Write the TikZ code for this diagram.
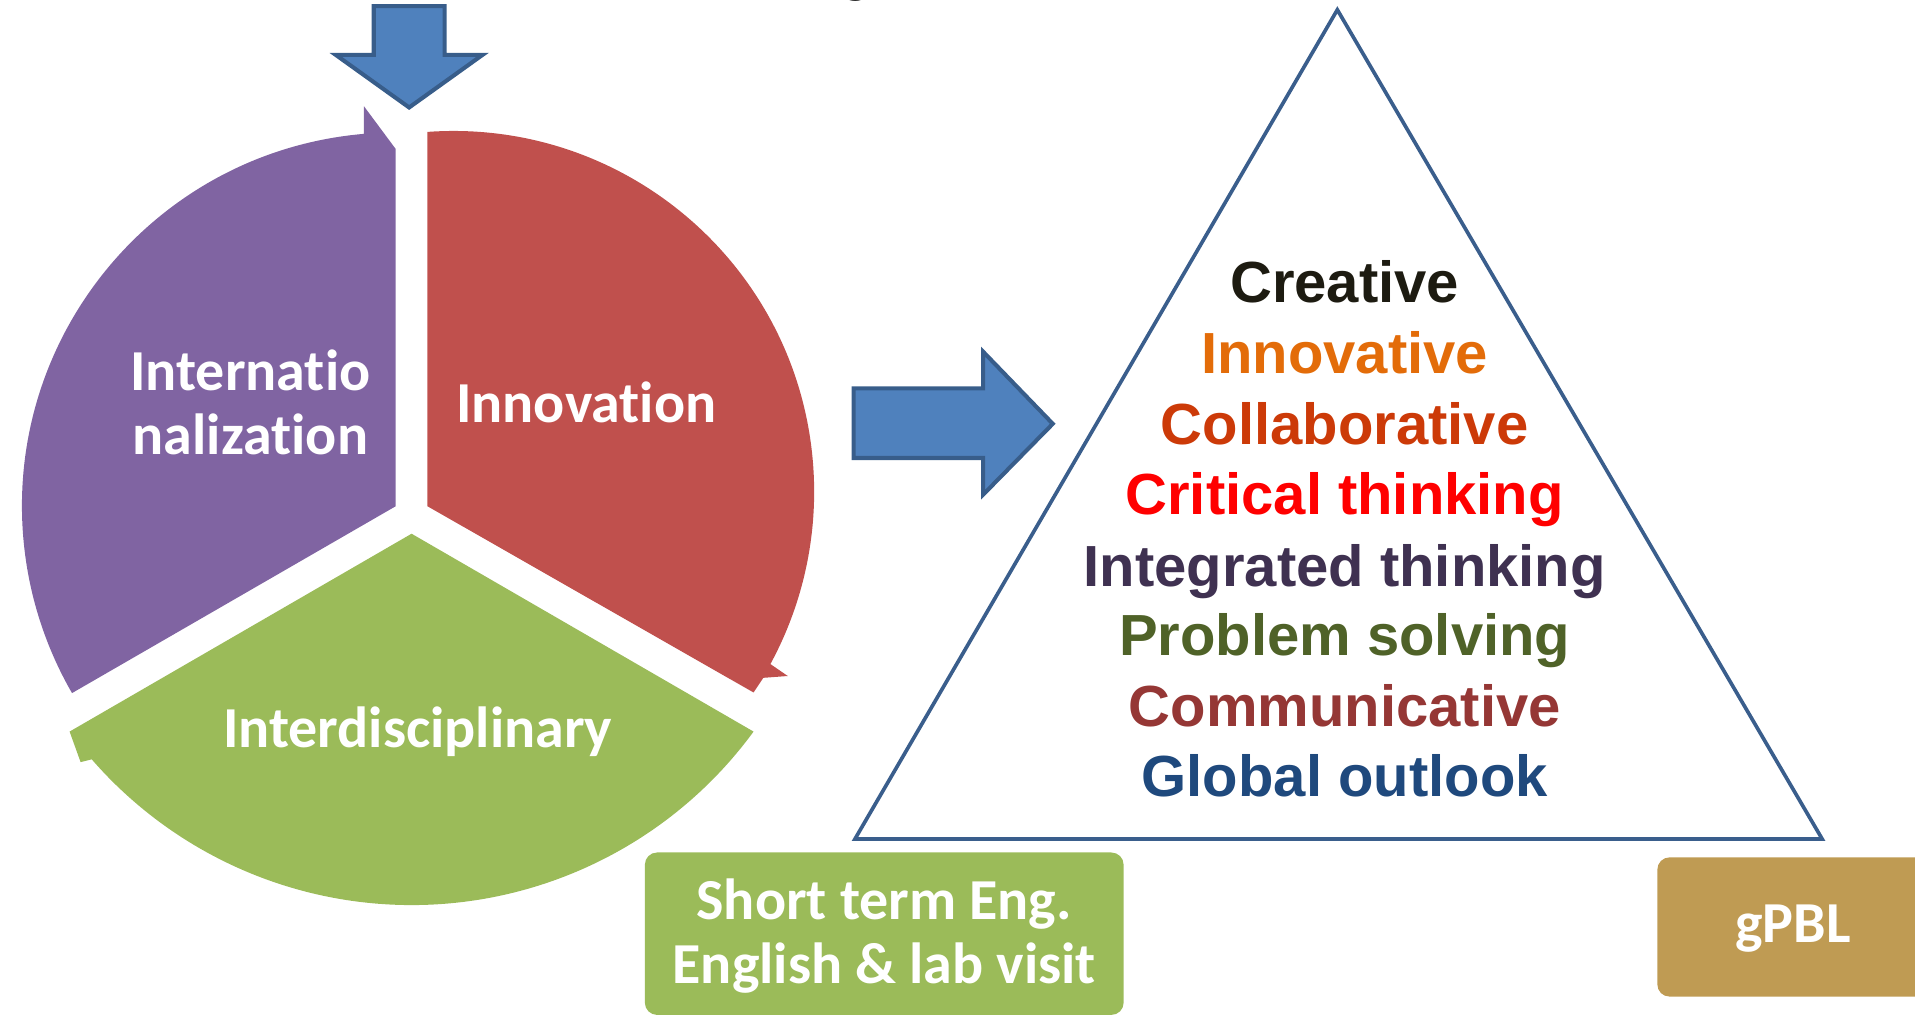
\documentclass[tikz,border=0pt]{standalone}
\usepackage{fontspec}
\newfontfamily\calfont{Carlito}[Ligatures={NoCommon,NoContextual}]
\newfontfamily\arialfont{Liberation Sans}
\definecolor{purp}{HTML}{8064A2}
\definecolor{redc}{HTML}{C0504D}
\definecolor{grn}{HTML}{9BBB59}
\definecolor{arrowfill}{HTML}{4F81BD}
\definecolor{arrowline}{HTML}{385D8A}
\definecolor{triline}{HTML}{3A5E8C}
\definecolor{gold}{HTML}{BF9B53}
\definecolor{cA}{HTML}{1D1B11}
\definecolor{cB}{HTML}{E36C09}
\definecolor{cC}{HTML}{CC3A08}
\definecolor{cD}{HTML}{FF0000}
\definecolor{cE}{HTML}{3F3151}
\definecolor{cF}{HTML}{4F6228}
\definecolor{cG}{HTML}{953735}
\definecolor{cH}{HTML}{1F497D}
\begin{document}
\begin{tikzpicture}[x=0.6pt,y=-0.6pt,
  pielabel/.style={text=white, font=\calfont\bfseries\fontsize{28.5}{34}\selectfont, anchor=base, inner sep=0pt},
  skill/.style={font=\arialfont\bfseries\fontsize{28.5}{34}\selectfont, anchor=base, inner sep=0pt},
  blockarrow/.style={fill=arrowfill, draw=arrowline, line width=2pt, line join=miter},
  tri/.style={draw=triline, line width=1.8pt},
  boxfill/.style={rounded corners=6pt}]
\useasboundingbox (0,0) rectangle (1568,832);

% cropped title fragment at the top edge
\begin{scope}
\clip (0,0) rectangle (1568,832);
\node[anchor=base, inner sep=0pt, font=\calfont\bfseries\fontsize{28.5}{34}\selectfont] (titlefrag) at (701,-7) {g};
\end{scope}

% segmented cycle (three exploded sectors with small arrow tips)
\fill[purp] (324,414.5) -- (324,122) -- (298,87) -- (298,109.6)
   arc[start angle=-94.87, end angle=-210, radius=306] -- cycle;
\fill[redc] (350,414.5) -- (350,108)
   arc[start angle=-94.1, end angle=28.5, radius=295.5]
   -- (645,553.5) -- (625,555) -- (617,567) -- cycle;
\fill[grn] (337,437) -- (617,599)
   arc[start angle=36.2, end angle=139, radius=347]
   -- (66,624) -- (57,599) -- cycle;

\node[pielabel] (intl1) at (205,320) {Internatio};
\node[pielabel] (intl2) at (205,372) {nalization};
\node[pielabel] (innov) at (480,346) {Innovation};
\node[pielabel] (inter) at (342,612) {Interdisciplinary};

% block arrows
\draw[blockarrow] (306,5) -- (364,5) -- (364,45) -- (395,45) -- (335,88) -- (275,45) -- (306,45) -- cycle;
\draw[blockarrow] (699,318) -- (805,318) -- (805,288) -- (862,347) -- (805,405) -- (805,375) -- (699,375) -- cycle;

% triangle
\draw[tri] (1095,8) -- (1492,687) -- (700,687) -- cycle;

\node[skill, text=cA] (s1) at (1101,248) {Creative};
\node[skill, text=cB] (s2) at (1101,306) {Innovative};
\node[skill, text=cC] (s3) at (1101,364) {Collaborative};
\node[skill, text=cD] (s4) at (1101,421) {Critical thinking};
\node[skill, text=cE] (s5) at (1101,480) {Integrated thinking};
\node[skill, text=cF] (s6) at (1101,537) {Problem solving};
\node[skill, text=cG] (s7) at (1101,595) {Communicative};
\node[skill, text=cH] (s8) at (1101,652) {Global outlook};

% bottom boxes
\fill[grn, boxfill] (528,698) rectangle (920,831);
\node[pielabel] (box1a) at (724,753) {Short term Eng.};
\node[pielabel] (box1b) at (724,805) {English \& lab visit};
\fill[gold, boxfill] (1357,702) rectangle (1600,816);
\node[pielabel] (gpbl) at (1468,772) {gPBL};
\end{tikzpicture}
\end{document}
